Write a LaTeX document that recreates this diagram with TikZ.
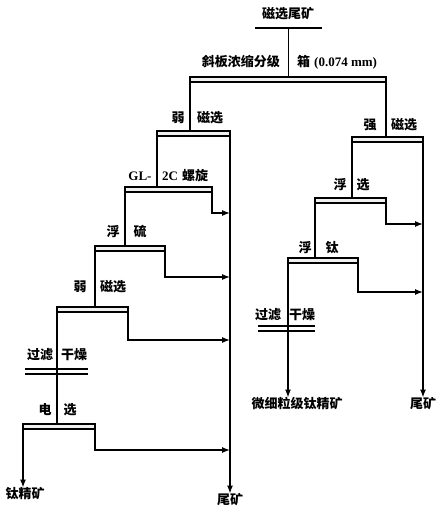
\documentclass[tikz,border=0pt]{standalone}
\usepackage{fontspec}
\setmainfont{Liberation Serif}
\newfontfamily\cjk{Noto Sans CJK SC}
\usetikzlibrary{arrows.meta}
\begin{document}
\begin{tikzpicture}[x=1pt,y=-1pt,
  procbar/.style={draw, line width=1.1pt, fill=gray!12, minimum height=5pt, inner sep=0pt, outer sep=0pt, anchor=north west},
  dblbar/.style={inner sep=0pt, outer sep=0pt, minimum height=5pt, anchor=north west},
  flow/.style={line width=1.3pt},
  arr/.style={flow, -{Latex[length=8pt,width=6pt]}},
  lbl/.style={font=\cjk\bfseries\fontsize{13}{15}\selectfont, inner sep=0pt},
  lat/.style={font=\bfseries\fontsize{13}{15}\selectfont, inner sep=0pt},
]
\useasboundingbox (0,0) rectangle (441,521);

% feed
\node[lbl] (feed) at (288,14) {磁选尾矿};
\node[inner sep=0pt, minimum width=67pt, minimum height=0pt, anchor=north west] (feedline) at (255,28) {};
\draw[flow] (feedline.north west) -- (feedline.north east);

% bars
\node[procbar, minimum width=196pt] (b0) at (190,77) {};
\node[procbar, minimum width=73pt] (b1) at (157,131) {};
\node[procbar, minimum width=87pt] (b2) at (125,187) {};
\node[procbar, minimum width=70pt] (b3) at (95,246) {};
\node[procbar, minimum width=71pt] (b4) at (57,307) {};
\node[dblbar, minimum width=63pt] (d1) at (25,369) {};
\node[procbar, minimum width=72pt] (b5) at (23,424) {};
\node[procbar, minimum width=71pt] (r1) at (352,137) {};
\node[procbar, minimum width=71pt] (r2) at (315,198) {};
\node[procbar, minimum width=70pt] (r3) at (288,258) {};
\node[dblbar, minimum width=57pt] (d2) at (258,326) {};
\draw[line width=1.3pt] (d1.north west) -- (d1.north east) (d1.south west) -- (d1.south east);
\draw[line width=1.3pt] (d2.north west) -- (d2.north east) (d2.south west) -- (d2.south east);

% labels
\node[lbl, anchor=east] (t0a) at (280,62) {斜板浓缩分级};
\node[lbl, anchor=west] (t0b) at (297,62) {箱};
\node[lat, anchor=west] (t0c) at (314,63) {(0.074 mm)};
\node[lbl] (t1a) at (178,118) {弱};
\node[lbl] (t1b) at (210,118) {磁选};
\node[lbl] (tr1a) at (370,125) {强};
\node[lbl] (tr1b) at (404,125) {磁选};
\node[lat] (t2a) at (140,176) {GL-};
\node[lat, anchor=west] (t2b) at (162,176) {2C};
\node[lbl, anchor=west] (t2c) at (182,176) {螺旋};
\node[lbl] (t3a) at (113,232) {浮};
\node[lbl] (t3b) at (140,232) {硫};
\node[lbl] (tr2a) at (340,185) {浮};
\node[lbl] (tr2b) at (363,185) {选};
\node[lbl] (tr3a) at (305,248) {浮};
\node[lbl] (tr3b) at (332,248) {钛};
\node[lbl] (t4a) at (80,287) {弱};
\node[lbl] (t4b) at (113,287) {磁选};
\node[lbl] (t5a) at (40,355) {过滤};
\node[lbl] (t5b) at (74,355) {干燥};
\node[lbl] (tr4a) at (268,315) {过滤};
\node[lbl] (tr4b) at (302,315) {干燥};
\node[lbl] (t6a) at (45,410) {电};
\node[lbl] (t6b) at (70,410) {选};
\node[lbl] (o1) at (25,494) {钛精矿};
\node[lbl] (o2) at (230,500) {尾矿};
\node[lbl] (o3) at (297,404) {微细粒级钛精矿};
\node[lbl] (o4) at (423,404) {尾矿};

% coordinates for tailings collector
\coordinate (m1) at (230,213);
\coordinate (m2) at (230,277);
\coordinate (m3) at (230,340);
\coordinate (m4) at (230,450);
\coordinate (n1) at (423,224);
\coordinate (n2) at (423,292);

% flows
\draw[flow] (feedline.north) -- (feedline.north |- b0.north);
\draw[flow] (b0.south west) -- (b0.south west |- b1.north);
\draw[flow] (b0.south east) -- (b0.south east |- r1.north);
% left chain
\draw[flow] (b1.south west) -- (b1.south west |- b2.north);
\draw[arr] (b1.south east) -- (o2.north);
\draw[arr] (b2.south east) -- (b2.south east |- m1) -- (m1);
\draw[flow] (b2.south west) -- (b2.south west |- b3.north);
\draw[arr] (b3.south east) -- (b3.south east |- m2) -- (m2);
\draw[flow] (b3.south west) -- (b3.south west |- b4.north);
\draw[arr] (b4.south east) -- (b4.south east |- m3) -- (m3);
\draw[flow] (b4.south west) -- (b4.south west |- b5.north);
\draw[arr] (b5.south west) -- (b5.south west |- o1.north);
\draw[arr] (b5.south east) -- (b5.south east |- m4) -- (m4);
% right chain
\draw[arr] (r1.south east) -- (o4.north);
\draw[flow] (r1.south west) -- (r1.south west |- r2.north);
\draw[arr] (r2.south east) -- (r2.south east |- n1) -- (n1);
\draw[flow] (r2.south west) -- (r2.south west |- r3.north);
\draw[arr] (r3.south east) -- (r3.south east |- n2) -- (n2);
\draw[arr] (r3.south west) -- (r3.south west |- o3.north);
\end{tikzpicture}
\end{document}
